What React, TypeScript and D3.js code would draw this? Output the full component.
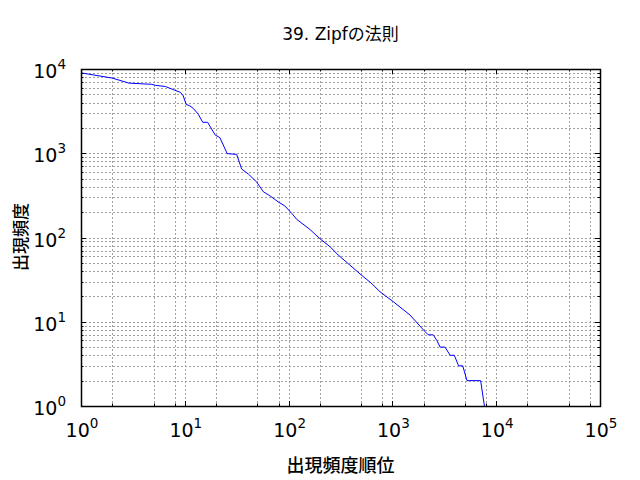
import React from "react";
import * as d3 from "d3";

// rank / frequency points
const ranks = [1, 2, 2.9, 4.8, 5.2, 6.5, 8, 9, 9.6, 10.3, 11.2, 12.1, 13.5, 14.9, 16.6, 19.6, 21.8, 25.6, 31.6, 35.3, 40.9, 49, 57, 66, 79, 92, 107, 120, 160, 200, 250, 300, 390, 500, 620, 760, 1020, 1480, 1990, 2210, 2470, 2680, 2880, 3210, 3600, 3950, 4340, 4760, 5230, 7080, 7700];
const freqs = [9000, 7800, 6800, 6580, 6400, 6200, 5600, 5300, 4900, 3800, 3650, 3400, 2900, 2330, 2330, 1650, 1530, 990, 970, 650, 567, 459, 350, 313, 266, 237, 194, 164, 125, 97, 78, 62, 47, 36, 29, 22.7, 17.3, 12, 8, 7, 7, 6, 5, 5, 4, 4, 3, 3, 2, 2, 1];

const xDecades = [0, 1, 2, 3, 4, 5];
const yDecades = [0, 1, 2, 3, 4];
const xMinorSubs = [2, 5, 8];
const yMinorSubs = [2, 3, 4, 5, 6, 7, 8, 9];

const titleText = "39. Zipfの法則";
const xLabel = "出現頻度順位";
const yLabel = "出現頻度";

const W = 640, H = 480;
const left = 81, right = 600, top = 69, bottom = 406;
const font = "'DejaVu Sans', 'Noto Sans CJK JP', sans-serif";
const cjk = "'Noto Sans CJK JP', sans-serif";

export default function App() {
  const x = d3.scaleLog().domain([1, 1e5]).range([left, right]);
  const y = d3.scaleLog().domain([1, 1e4]).range([bottom, top]);
  const px = (v: number) => Math.round(v) + 0.5;

  const pts = ranks.map((r, i) => [r, freqs[i]] as [number, number]);
  const line = d3.line<[number, number]>().x(d => x(d[0])).y(d => y(d[1]));

  const xMajor = xDecades.map(d => Math.pow(10, d));
  const yMajor = yDecades.map(d => Math.pow(10, d));
  const xMinor = xDecades.slice(0, -1).flatMap(d => xMinorSubs.map(s => s * Math.pow(10, d)));
  const yMinor = yDecades.slice(0, -1).flatMap(d => yMinorSubs.map(s => s * Math.pow(10, d)));

  const gridStyle = { stroke: "#a0a0a0", strokeWidth: 1, strokeDasharray: "2,2" };

  return (
    <svg width={W} height={H} style={{ position: "absolute", left: 0, top: 0, background: "#fff" }} fontFamily={font}>
      <clipPath id="plot">
        <rect x={left} y={top} width={right - left} height={bottom - top} />
      </clipPath>
      {/* grid */}
      {[...xMajor, ...xMinor].filter(v => v > 1 && v < 1e5).map(v => (
        <line key={"gx" + v} x1={px(x(v))} x2={px(x(v))} y1={top} y2={bottom} {...gridStyle} />
      ))}
      {[...yMajor, ...yMinor].filter(v => v > 1 && v < 1e4).map(v => (
        <line key={"gy" + v} y1={px(y(v))} y2={px(y(v))} x1={left} x2={right} {...gridStyle} />
      ))}
      {/* data */}
      <path d={line(pts) || ""} fill="none" stroke="#0000ff" strokeWidth={1} clipPath="url(#plot)" />
      {/* ticks */}
      {xMajor.map(v => (
        <g key={"tx" + v}>
          <line x1={px(x(v))} x2={px(x(v))} y1={bottom} y2={bottom - 5} stroke="#000" />
          <line x1={px(x(v))} x2={px(x(v))} y1={top} y2={top + 5} stroke="#000" />
        </g>
      ))}
      {xMinor.map(v => (
        <g key={"tmx" + v}>
          <line x1={px(x(v))} x2={px(x(v))} y1={bottom} y2={bottom - 2.5} stroke="#000" />
          <line x1={px(x(v))} x2={px(x(v))} y1={top} y2={top + 2.5} stroke="#000" />
        </g>
      ))}
      {yMajor.map(v => (
        <g key={"ty" + v}>
          <line y1={px(y(v))} y2={px(y(v))} x1={left} x2={left + 5} stroke="#000" />
          <line y1={px(y(v))} y2={px(y(v))} x1={right} x2={right - 5} stroke="#000" />
        </g>
      ))}
      {yMinor.map(v => (
        <g key={"tmy" + v}>
          <line y1={px(y(v))} y2={px(y(v))} x1={left} x2={left + 2.5} stroke="#000" />
          <line y1={px(y(v))} y2={px(y(v))} x1={right} x2={right - 2.5} stroke="#000" />
        </g>
      ))}
      {/* frame */}
      <rect x={left + 0.5} y={top + 0.5} width={right - left} height={bottom - top} fill="none" stroke="#000" strokeWidth={1.5} />
      {/* tick labels */}
      {xDecades.map(d => (
        <text key={"lx" + d} x={x(Math.pow(10, d)) + 1} y={437} textAnchor="middle" fontSize={19} fill="#000">
          10<tspan dy={-9} fontSize={13.5}>{d}</tspan>
        </text>
      ))}
      {yDecades.map(d => (
        <text key={"ly" + d} x={66} y={y(Math.pow(10, d)) + 9} textAnchor="end" fontSize={19} fill="#000">
          10<tspan dy={-9} fontSize={13.5}>{d}</tspan>
        </text>
      ))}
      {/* titles */}
      <text x={(left + right) / 2} y={40} textAnchor="middle" fontSize={17} fill="#000">{titleText}</text>
      <text x={(left + right) / 2} y={472} textAnchor="middle" fontSize={18} fontWeight={500} fontFamily={cjk} fill="#000">{xLabel}</text>
      <text transform={`translate(27,237) rotate(-90)`} textAnchor="middle" fontSize={17} fontWeight={500} fontFamily={cjk} fill="#000">{yLabel}</text>
    </svg>
  );
}
